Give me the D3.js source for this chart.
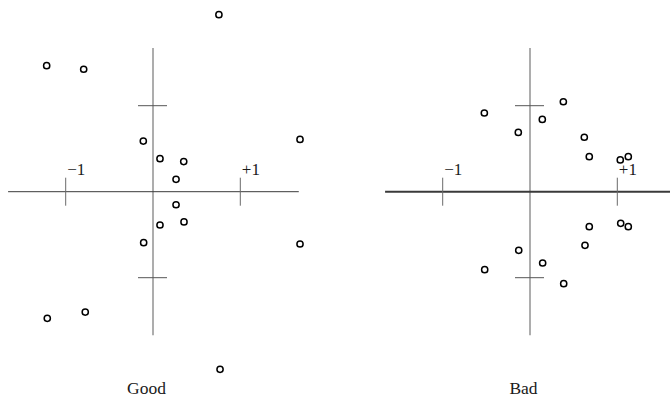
<!DOCTYPE html>
<html>
<head>
<meta charset="utf-8">
<script src="https://cdn.jsdelivr.net/npm/d3@7"></script>
<style>
  html, body { margin: 0; padding: 0; background: #fff; }
  svg { display: block; }
  text { font-family: "Liberation Serif", "DejaVu Serif", serif; fill: #1a1a1a; }
</style>
</head>
<body>
<svg id="chart" width="670" height="401"></svg>
<script>
// Point sets for the two panels (x, y in axis units)
const goodX = [0.755, -1.218, -0.794, -0.111, 1.684, 0.080, 0.352, 0.264,
               0.264, 0.080, 0.355, -0.107, 1.684, -1.211, -0.776, 0.768];
const goodY = [2.058, 1.465, 1.424, 0.589, 0.608, 0.384, 0.350, 0.144,
               -0.152, -0.387, -0.352, -0.593, -0.608, -1.472, -1.400, -2.065];

const badX = [-0.523, -0.134, 0.141, 0.382, 0.622, 0.679, 1.034, 1.126,
              1.039, 1.126, 0.679, 0.630, -0.129, 0.145, -0.519, 0.386];
const badY = [0.915, 0.689, 0.840, 1.046, 0.633, 0.407, 0.369, 0.407,
              -0.368, -0.407, -0.407, -0.623, -0.682, -0.829, -0.907, -1.070];

const panelTitles = ["Good", "Bad"];
const tickValues = [-1, 1];
const tickLabels = ["\u22121", "+1"];

const svg = d3.select("#chart");

const panels = [
  { title: panelTitles[0], xs: goodX, ys: goodY,
    xRange: [65.7, 240.3], xExtent: [-1.66, 1.67], hStroke: "#3a3a3a", hWidth: 1 },
  { title: panelTitles[1], xs: badX, ys: badY,
    xRange: [442.7, 617.3], xExtent: [-1.66, 1.65], hStroke: "#3a3a3a", hWidth: 2 }
];

const yRange = [277.7, 105.7];
const yExtent = [-1.67, 1.67];
const tickHalf = 14;

panels.forEach(p => {
  const x = d3.scaleLinear().domain([-1, 1]).range(p.xRange);
  const y = d3.scaleLinear().domain([-1, 1]).range(yRange);
  const g = svg.append("g");

  // vertical axis
  g.append("line")
    .attr("x1", x(0)).attr("x2", x(0))
    .attr("y1", y(yExtent[1])).attr("y2", y(yExtent[0]))
    .attr("stroke", "#8a8a8a").attr("stroke-width", 1.4);

  // horizontal axis
  g.append("line")
    .attr("x1", x(p.xExtent[0])).attr("x2", x(p.xExtent[1]))
    .attr("y1", y(0)).attr("y2", y(0))
    .attr("stroke", p.hStroke).attr("stroke-width", p.hWidth);

  // x ticks crossing the horizontal axis
  g.selectAll(".xt").data(tickValues).enter().append("line")
    .attr("x1", d => x(d)).attr("x2", d => x(d))
    .attr("y1", y(0) - tickHalf).attr("y2", y(0) + tickHalf)
    .attr("stroke", "#6a6a6a").attr("stroke-width", 1);

  // y ticks crossing the vertical axis
  g.selectAll(".yt").data(tickValues).enter().append("line")
    .attr("x1", x(0) - tickHalf - 1).attr("x2", x(0) + tickHalf)
    .attr("y1", d => y(d)).attr("y2", d => y(d))
    .attr("stroke", "#555").attr("stroke-width", 1);

  // tick labels on the x axis
  g.selectAll(".xl").data(tickValues).enter().append("text")
    .attr("x", d => x(d) + 1.5)
    .attr("y", y(0) - 16.5)
    .attr("font-size", 17)
    .text((d, i) => tickLabels[i]);

  // points
  g.selectAll("circle").data(p.xs.map((v, i) => [v, p.ys[i]])).enter().append("circle")
    .attr("cx", d => x(d[0])).attr("cy", d => y(d[1]))
    .attr("r", 3.1)
    .attr("fill", "none").attr("stroke", "#000").attr("stroke-width", 1.5);

  // panel title
  g.append("text")
    .attr("x", x(0) - 6.5)
    .attr("y", 393.5)
    .attr("text-anchor", "middle")
    .attr("font-size", 17.5)
    .text(p.title);
});
</script>
</body>
</html>
